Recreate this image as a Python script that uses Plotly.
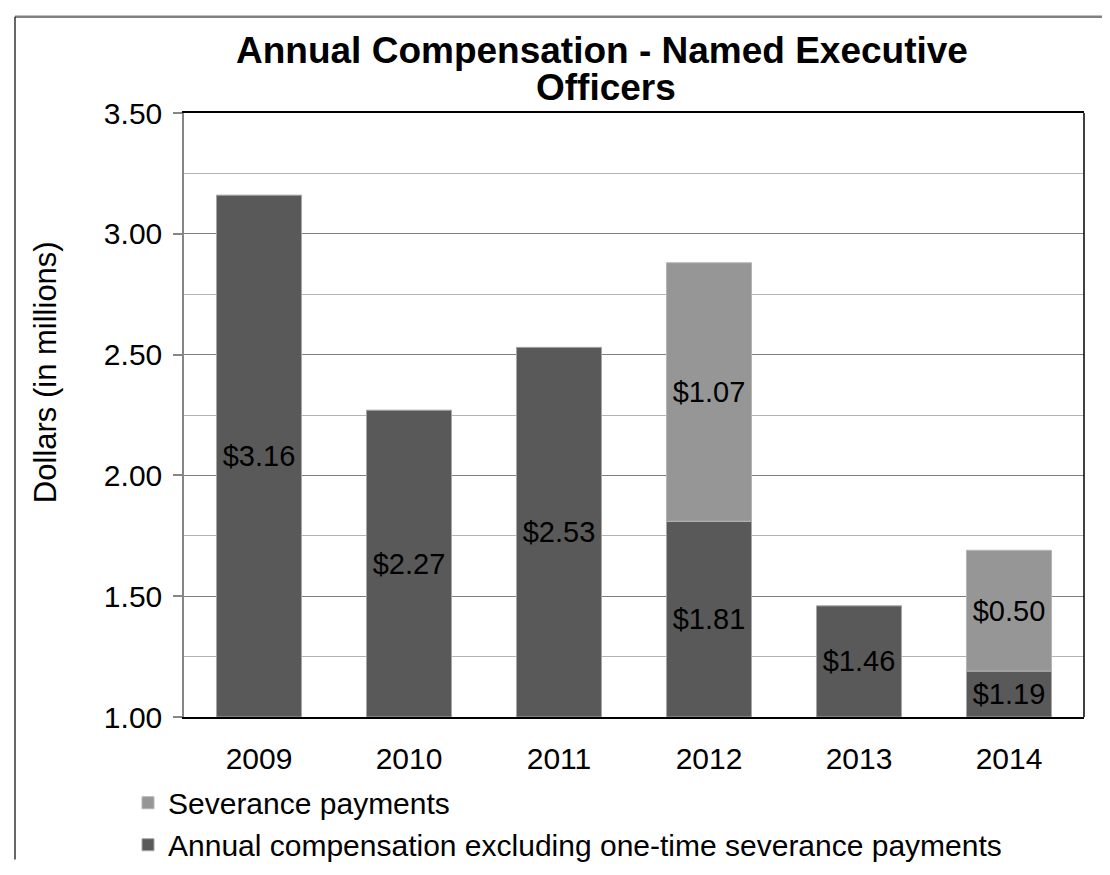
import plotly.graph_objects as go

years = ["2009", "2010", "2011", "2012", "2013", "2014"]
annual_comp = [3.16, 2.27, 2.53, 1.81, 1.46, 1.19]
severance = [None, None, None, 1.07, None, 0.50]

axis_min = 1.00
axis_max = 3.50

title_line1 = "Annual Compensation - Named Executive"
title_line2 = "Officers"
y_title = "Dollars (in millions)"

FONT = "Liberation Sans, Arial, sans-serif"
W, H = 1110, 875
ML, MR, MT, MB = 176, 34, 105, 143
PW, PH = W - ML - MR, H - MT - MB


def px2paper_x(px):
    return (px - ML) / PW


def px2paper_y(py):
    return (H - MB - py) / PH


fig = go.Figure()

fig.add_trace(go.Bar(
    x=years,
    y=[v - axis_min for v in annual_comp],
    base=[axis_min] * len(years),
    name="Annual compensation excluding one-time severance payments",
    marker=dict(color="#595959", line=dict(color="#a6a6a6", width=1)),
    text=[f"${v:.2f}" for v in annual_comp],
    textposition="inside",
    insidetextanchor="middle",
    constraintext="none",
    textangle=0,
    textfont=dict(family=FONT, size=29, color="#000000"),
))

fig.add_trace(go.Bar(
    x=years,
    y=severance,
    base=annual_comp,
    name="Severance payments",
    marker=dict(color="#969696", line=dict(color="#b4b4b4", width=1)),
    text=[f"${v:.2f}" if v is not None else "" for v in severance],
    textposition="inside",
    insidetextanchor="middle",
    constraintext="none",
    textangle=0,
    textfont=dict(family=FONT, size=29, color="#000000"),
))

fig.update_layout(
    width=W, height=H,
    margin=dict(l=ML, r=MR, t=MT, b=MB),
    paper_bgcolor="white", plot_bgcolor="white",
    barmode="overlay",
    bargap=0.433,
    font=dict(family=FONT, color="#000000"),
    showlegend=True,
    legend=dict(
        orientation="v",
        traceorder="reversed",
        x=px2paper_x(120), xanchor="left",
        y=px2paper_y(794), yanchor="top",
        font=dict(family=FONT, size=30, color="#000000"),
        bgcolor="rgba(0,0,0,0)",
        itemclick=False,
        tracegroupgap=0,
    ),
    xaxis=dict(
        type="category",
        showline=True, linecolor="#000000", linewidth=1.5, mirror=True,
        ticks="", showgrid=False,
        ticklabelstandoff=14,
        tickfont=dict(family=FONT, size=30, color="#000000"),
    ),
    yaxis=dict(
        range=[axis_min, axis_max],
        dtick=0.5, tick0=1.0, tickformat=".2f",
        showline=True, linecolor="#868686", linewidth=1.5,
        ticks="outside", ticklen=9, tickcolor="#868686", tickwidth=1.5,
        ticklabelstandoff=5,
        showgrid=True, gridcolor="#7f7f7f", gridwidth=1.2,
        zeroline=False,
        minor=dict(dtick=0.25, showgrid=True, gridcolor="#b4b4b4", gridwidth=1.2),
        tickfont=dict(family=FONT, size=30, color="#000000"),
    ),
    shapes=[
        dict(type="line", xref="x domain", yref="y domain", x0=1, x1=1, y0=0, y1=1,
             line=dict(color="#000000", width=1.5)),
        dict(type="line", xref="paper", yref="paper",
             x0=px2paper_x(7), x1=px2paper_x(1115), y0=px2paper_y(5), y1=px2paper_y(5),
             line=dict(color="#808080", width=2.5)),
        dict(type="line", xref="paper", yref="paper",
             x0=px2paper_x(7), x1=px2paper_x(7), y0=px2paper_y(5), y1=px2paper_y(880),
             line=dict(color="#000000", width=1.2)),
    ],
    annotations=[
        dict(text=f"<b>{title_line1}</b>", xref="paper", yref="paper",
             x=px2paper_x(594), y=px2paper_y(40), xanchor="center", yanchor="middle",
             showarrow=False, font=dict(family=FONT, size=37, color="#000000")),
        dict(text=f"<b>{title_line2}</b>", xref="paper", yref="paper",
             x=px2paper_x(598), y=px2paper_y(79), xanchor="center", yanchor="middle",
             showarrow=False, font=dict(family=FONT, size=37, color="#000000")),
        dict(text=y_title, xref="paper", yref="paper",
             x=px2paper_x(37), y=px2paper_y(374), xanchor="center", yanchor="middle",
             textangle=-90, showarrow=False,
             font=dict(family=FONT, size=31, color="#000000")),
    ],
)

fig.write_html("out.html")
